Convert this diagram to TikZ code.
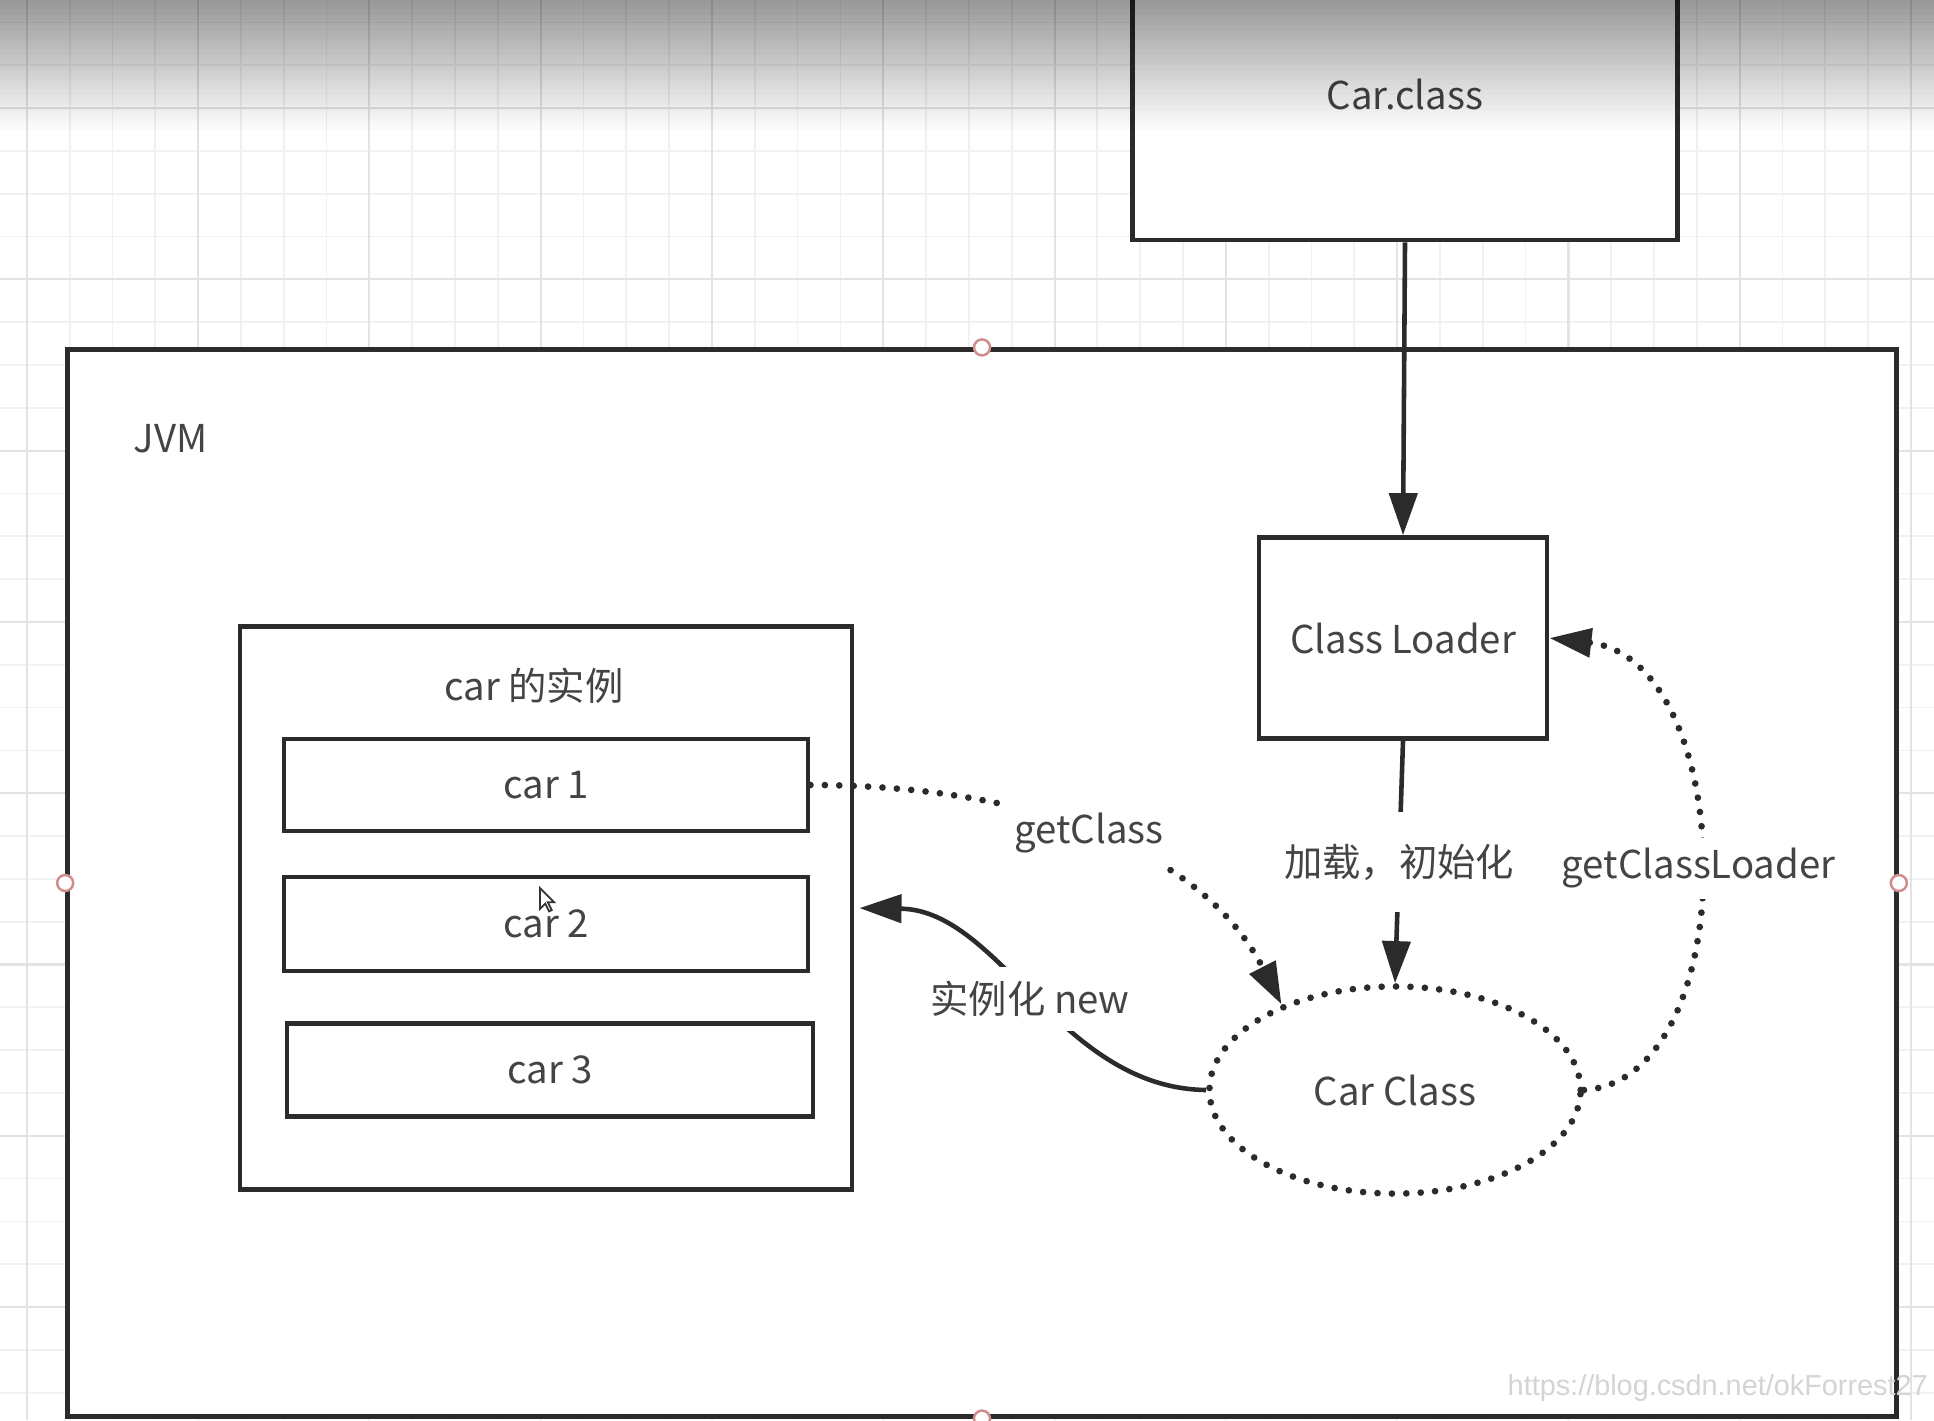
\documentclass[tikz,border=0pt]{standalone}
\usepackage{fontspec}
\newfontfamily\cjk{Noto Sans CJK SC}
\newfontfamily\wmfont{Liberation Sans}
\usetikzlibrary{arrows.meta,shapes.geometric}
\definecolor{linecol}{HTML}{2B2B2B}
\definecolor{textcol}{HTML}{444444}
\definecolor{minorcol}{HTML}{F1F1F1}
\definecolor{majorcol}{HTML}{E3E3E3}
\definecolor{handlecol}{HTML}{D08C8C}
\tikzset{
	box/.style={draw=linecol, line width=1.3pt, fill=white, text=textcol, font=\cjk\fontsize{10.9}{13}\selectfont, inner sep=0pt},
	txt/.style={text=textcol, font=\cjk\fontsize{10.9}{13}\selectfont, inner sep=0pt},
	lbl/.style={txt, fill=white, inner sep=4pt},
	solidline/.style={draw=linecol, line width=1.3pt},
	dotline/.style={draw=linecol, line width=1.9pt, line cap=round, dash pattern=on 0pt off 4.1pt},
	arr/.style={-{Triangle[length=0.42cm, width=0.28cm]}},
	handle/.style={circle, draw=handlecol, fill=white, line width=0.7pt, minimum size=0.16cm, inner sep=0pt},
	minorgrid/.style={draw=minorcol, line width=0.5pt},
	majorgrid/.style={draw=majorcol, line width=0.6pt}
}
\begin{document}
\begin{tikzpicture}[x=0.01cm, y=-0.01cm]
	\useasboundingbox ( 0, 0 ) rectangle ( 1934, 1420 );
	\clip ( 0, 0 ) rectangle ( 1934, 1420 );
	\fill [white] ( 0, 0 ) rectangle ( 1934, 1420 );
	\foreach \k in {0,...,46}
		\draw [minorgrid] ( {-16 + 42.82*\k}, 0 ) -- ( {-16 + 42.82*\k}, 1420 );
	\foreach \k in {0,...,34}
		\draw [minorgrid] ( 0, {-20.4 + 42.82*\k} ) -- ( 1934, {-20.4 + 42.82*\k} );
	\foreach \k in {0,...,11}
		\draw [majorgrid] ( {26.8 + 171.3*\k}, 0 ) -- ( {26.8 + 171.3*\k}, 1420 );
	\foreach \k in {-1,...,8}
		\draw [majorgrid] ( 0, {108 + 171.3*\k} ) -- ( 1934, {108 + 171.3*\k} );
	\node [box, minimum width=5.45cm, minimum height=2.92cm] (carfile) at ( 1405, 94 ) {Car.class};
	\node [box, minimum width=18.28cm, minimum height=10.66cm] (jvm) at ( 982, 883 ) {};
	\node [txt, right] (jvmlabel) at ( 133, 439 ) {JVM};
	\node [box, minimum width=2.88cm, minimum height=2.01cm] (loader) at ( 1403, 638 ) {Class Loader};
	\node [box, minimum width=6.12cm, minimum height=5.63cm] (instances) at ( 546, 908 ) {};
	\node [txt] (instlabel) at ( 534, 686 ) {car 的实例};
	\node [box, minimum width=5.24cm, minimum height=0.92cm] (car1) at ( 546, 785 ) {car 1};
	\node [box, minimum width=5.24cm, minimum height=0.94cm] (car2) at ( 546, 924 ) {car 2};
	\node [box, minimum width=5.26cm, minimum height=0.93cm] (car3) at ( 550, 1070 ) {car 3};
	\node [ellipse, dotline, txt, minimum width=3.71cm, minimum height=2.07cm] (carclass) at ( 1395, 1090 ) {Car Class};
	\draw [solidline, arr] (carfile.south) -- (loader.north);
	\draw [solidline, arr] (loader.south) -- node [lbl, inner ysep=9pt] {加载，初始化} (carclass.north);
	\draw [dotline, arr] (car1.east) .. controls ( 1020, 785 ) and ( 1200, 845 ) .. node [lbl, pos=0.49] {getClass} (carclass.143);
	\draw [solidline, arr, shorten >=0.05cm] (carclass.west) .. controls ( 1060, 1088 ) and ( 1000, 910 ) .. node [lbl] {实例化 new} (instances.east);
	\draw [dotline, arr] (carclass.east) .. controls ( 1745, 1080 ) and ( 1740, 660 ) .. node [lbl, inner sep=3pt] {getClassLoader} (loader.east);
	\node [handle] (hnorth) at (jvm.north) {};
	\node [handle] (hsouth) at (jvm.south) {};
	\node [handle] (hwest) at (jvm.west) {};
	\node [handle] (heast) at (jvm.east) {};
	\draw [fill=white, draw=black!80, line width=0.5pt, shift={( 540, 888 )}, scale=1.3] ( 0, 0 ) -- ( 0, 16 ) -- ( 4, 12 ) -- ( 7, 18 ) -- ( 9, 17 ) -- ( 6, 11 ) -- ( 11, 11 ) -- cycle;
	\node [right, inner sep=0pt, text=black!17, font=\wmfont\fontsize{8.2}{10}\selectfont] (watermark) at ( 1507, 1388 ) {https://blog.csdn.net/okForrest27};
	\foreach \i in {0,...,25}
		\fill [black, opacity={0.4*(1-\i/26)}] ( 0, {5*\i} ) rectangle ( 1934, {5*\i + 5} );
\end{tikzpicture}
\end{document}
